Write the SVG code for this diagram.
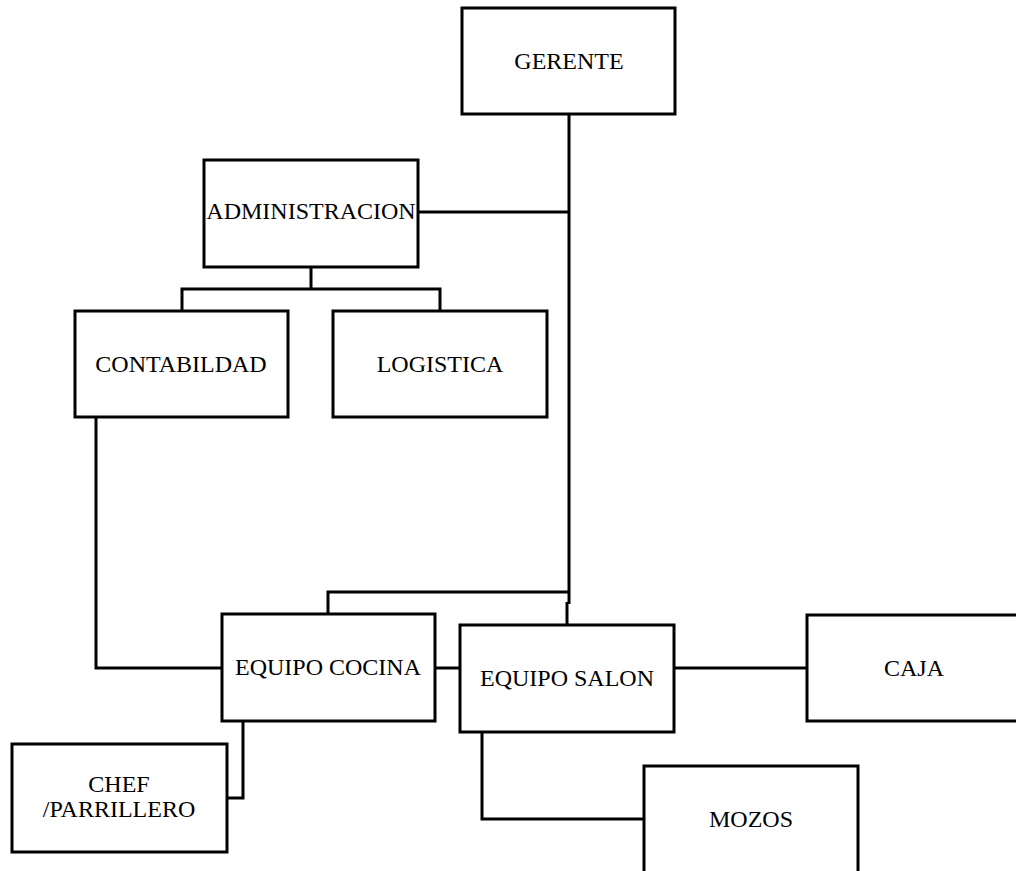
<svg xmlns="http://www.w3.org/2000/svg" width="1016" height="871" viewBox="0 0 1016 871">
<style>
.box{fill:#fff;stroke:#000;stroke-width:3}
.lbl{font-family:"Liberation Serif","Times New Roman",serif;font-size:24px;fill:#000;text-anchor:middle}
.con{fill:none;stroke:#000;stroke-width:3}
</style>
<rect width="1016" height="871" fill="#fff"/>
<g id="connectors">
<path class="con" d="M569,114 V604"/>
<path class="con" d="M418,212 H569"/>
<path class="con" d="M311,267 V289"/>
<path class="con" d="M182,311 V289 H440 V311"/>
<path class="con" d="M96,417 V668 H222"/>
<path class="con" d="M328,614 V592 H569"/>
<path class="con" d="M567,602 V625"/>
<path class="con" d="M435,668 H460"/>
<path class="con" d="M674,668 H807"/>
<path class="con" d="M243,721 V798 H227"/>
<path class="con" d="M482,732 V819 H644"/>
</g>
<g id="gerente"><rect class="box" x="462" y="8" width="213" height="106"/><text class="lbl" x="569" y="69">GERENTE</text></g>
<g id="administracion"><rect class="box" x="204" y="160" width="214" height="107"/><text class="lbl" x="311" y="219">ADMINISTRACION</text></g>
<g id="contabildad"><rect class="box" x="75" y="311" width="213" height="106"/><text class="lbl" x="181" y="372">CONTABILDAD</text></g>
<g id="logistica"><rect class="box" x="333" y="311" width="214" height="106"/><text class="lbl" x="440" y="372">LOGISTICA</text></g>
<g id="equipo-cocina"><rect class="box" x="222" y="614" width="213" height="107"/><text class="lbl" x="328" y="675">EQUIPO COCINA</text></g>
<g id="equipo-salon"><rect class="box" x="460" y="625" width="214" height="107"/><text class="lbl" x="567" y="686">EQUIPO SALON</text></g>
<g id="caja"><rect class="box" x="807" y="615" width="215" height="106"/><text class="lbl" x="914" y="676">CAJA</text></g>
<g id="chef"><rect class="box" x="12" y="744" width="215" height="108"/><text class="lbl" x="119" y="792">CHEF</text><text class="lbl" x="119" y="817">/PARRILLERO</text></g>
<g id="mozos"><rect class="box" x="644" y="766" width="214" height="110"/><text class="lbl" x="751" y="827">MOZOS</text></g>
</svg>
